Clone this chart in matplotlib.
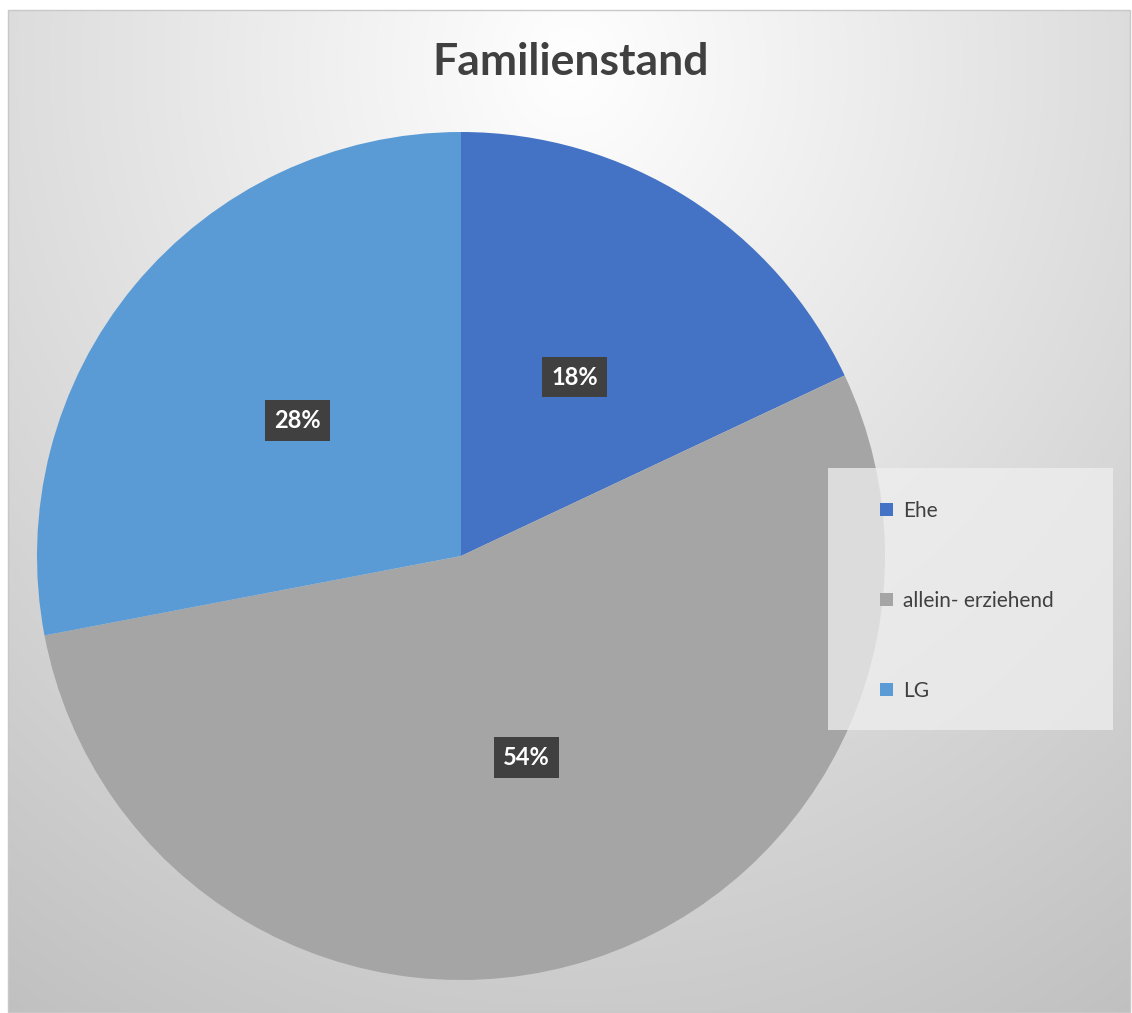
import numpy as np
import matplotlib
matplotlib.use("Agg")
import matplotlib.pyplot as plt
from matplotlib.patches import Rectangle, Patch

# data
labels = ["Ehe", "allein- erziehend", "LG"]
shares = [18, 54, 28]
colors = ["#4472C4", "#A5A5A5", "#5B9BD5"]

W, H = 1132, 1013
plt.rcParams['font.family'] = ['Lato', 'DejaVu Sans']

fig = plt.figure(figsize=(W / 100, H / 100), dpi=100)
fig.patch.set_facecolor("white")
ax = fig.add_axes([0, 0, 1, 1])

# radial gradient background of the chart area
x0, x1, y0, y1 = 8, 1130, 1, 1003
xx, yy = np.meshgrid(np.linspace(x0, x1, 400), np.linspace(y1, y0, 400))
d = np.hypot(xx - 571, (yy - 950) * 0.9)
v = np.clip(1 - 0.00024 * d, 0.75, 1.0)
ax.imshow(np.dstack([v, v, v]), extent=(x0, x1, y0, y1), zorder=0,
          interpolation="bilinear")
ax.add_patch(Rectangle((x0, y0), x1 - x0, y1 - y0, fill=False,
                       edgecolor="#c8c8c8", lw=1, zorder=1))

wedges, texts, autotexts = ax.pie(
    shares, colors=colors, startangle=90, counterclock=False,
    center=(461, 457), radius=424, frame=True,
    autopct=lambda p: f"{p:.0f}%", pctdistance=0.5,
    wedgeprops=dict(linewidth=0), textprops=dict(zorder=5))
for w in wedges:
    w.set_zorder(2)
for t in autotexts:
    t.set_color("white")
    t.set_fontsize(17)
    t.set_fontweight("bold")
    t.set_bbox(dict(boxstyle="square,pad=0.38", facecolor="#404040",
                    edgecolor="none"))

ax.set_xlim(0, W)
ax.set_ylim(0, H)
ax.set_aspect("auto")
ax.axis("off")

ax.text(571, H - 62, "Familienstand", ha="center", va="center",
        fontsize=32, fontweight="bold", color="#404040", zorder=5)

# legend box
ax.add_patch(Rectangle((828, H - 730), 285, 262, facecolor="#efefef",
                       alpha=0.75, edgecolor="none", zorder=3))
handles = [Patch(facecolor=c, edgecolor="none") for c in colors]
leg = ax.legend(handles, labels, loc="center left",
                bbox_to_anchor=(880 / W, 1 - 601 / H),
                frameon=False, fontsize=15, labelspacing=3.35,
                handlelength=0.6, handleheight=0.6, handletextpad=0.5,
                borderaxespad=0, borderpad=0)
for t in leg.get_texts():
    t.set_color("#404040")
leg.set_zorder(6)

fig.savefig("out.png", dpi=100)
